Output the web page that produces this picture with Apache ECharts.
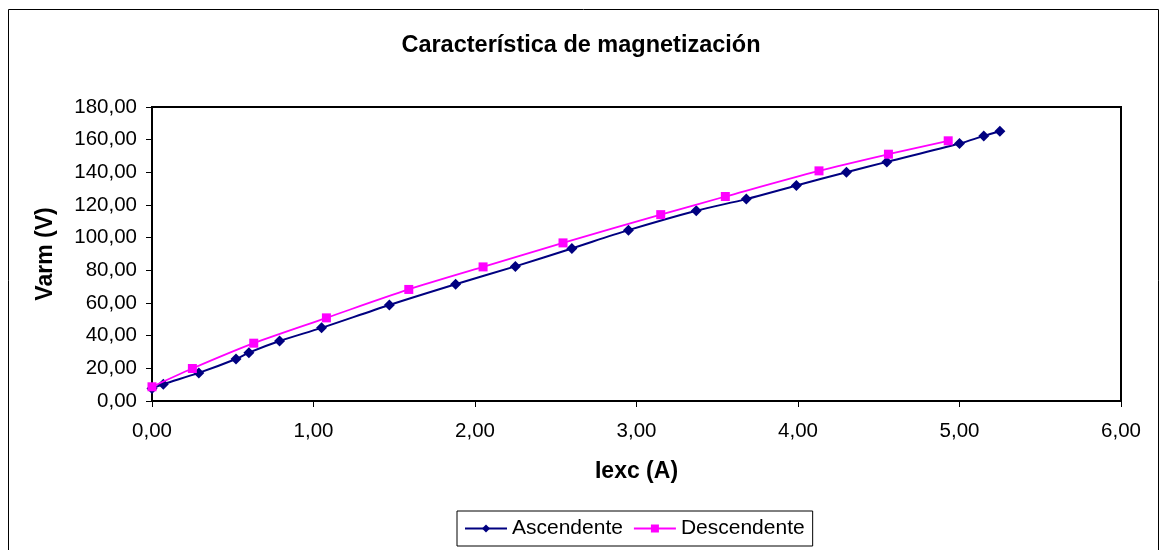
<!DOCTYPE html>
<html>
<head>
<meta charset="utf-8">
<script src="https://cdn.jsdelivr.net/npm/echarts@6/dist/echarts.min.js"></script>
<style>
  html, body { margin: 0; padding: 0; background: #fff; }
  #chart { width: 1162px; height: 550px; }
</style>
</head>
<body>
<div id="chart"></div>
<script>
// Magnetization curve: armature voltage vs. excitation current
const seriesNames = ['Ascendente', 'Descendente'];

// Rising excitation current
const ascX = [0.00, 0.07, 0.29, 0.52, 0.60, 0.79, 1.05, 1.47, 1.88, 2.25, 2.60, 2.95, 3.37, 3.68, 3.99, 4.30, 4.55, 5.00, 5.15, 5.25];
const ascY = [7.7, 10.3, 17.2, 25.7, 29.6, 36.7, 44.8, 58.8, 71.5, 82.4, 93.4, 104.6, 116.5, 123.6, 131.9, 140.1, 146.4, 157.6, 162.3, 165.2];

// Falling excitation current
const descX = [0.00, 0.25, 0.63, 1.08, 1.59, 2.05, 2.545, 3.15, 3.55, 4.13, 4.56, 4.93];
const descY = [8.7, 19.9, 35.4, 50.9, 68.3, 82.1, 96.8, 114.1, 125.2, 140.9, 151.1, 159.3];

// Axis tick values
const xTicks = [0, 1, 2, 3, 4, 5, 6];
const yTicks = [0, 20, 40, 60, 80, 100, 120, 140, 160, 180];

const FONT = '"Liberation Sans", Arial, sans-serif';
const fmt = v => v.toFixed(2).replace('.', ',');
const pairs = (xs, ys) => xs.map((x, i) => [x, ys[i]]);

const chart = echarts.init(document.getElementById('chart'), null, { renderer: 'canvas' });

chart.setOption({
  backgroundColor: '#ffffff',
  animation: false,
  textStyle: { fontFamily: FONT },
  title: {
    text: 'Característica de magnetización',
    left: 'center',
    top: 29,
    textStyle: { fontFamily: FONT, fontSize: 23.5, fontWeight: 'bold', color: '#000' }
  },
  graphic: [{
    type: 'rect',
    shape: { x: 8.5, y: 9.5, width: 1150, height: 560 },
    style: { fill: 'none', stroke: '#000', lineWidth: 1 },
    silent: true,
    z: -1
  }],
  grid: {
    left: 152, right: 41, top: 107, bottom: 149,
    show: true, borderColor: '#000', borderWidth: 2, backgroundColor: '#fff'
  },
  legend: {
    data: seriesNames,
    left: 457, top: 511,
    padding: [7, 8, 7, 7],
    itemGap: 10,
    itemWidth: 42, itemHeight: 10,
    backgroundColor: '#fff',
    borderColor: '#000', borderWidth: 1,
    borderRadius: 0,
    textStyle: { fontFamily: FONT, fontSize: 21, color: '#000' }
  },
  xAxis: {
    type: 'value',
    min: xTicks[0], max: xTicks[xTicks.length - 1], interval: xTicks[1] - xTicks[0],
    name: 'Iexc (A)', nameLocation: 'middle', nameGap: 59,
    nameTextStyle: { fontFamily: FONT, fontSize: 23, fontWeight: 'bold', color: '#000' },
    axisLine: { show: true, lineStyle: { color: '#000', width: 2 } },
    axisTick: { show: true, inside: false, length: 6, lineStyle: { color: '#000', width: 1 } },
    axisLabel: { margin: 20, fontFamily: FONT, fontSize: 20.5, color: '#000', formatter: fmt },
    splitLine: { show: false }
  },
  yAxis: {
    type: 'value',
    min: yTicks[0], max: yTicks[yTicks.length - 1], interval: yTicks[1] - yTicks[0],
    name: 'Varm (V)', nameLocation: 'middle', nameGap: 95, nameRotate: 90,
    nameTextStyle: { fontFamily: FONT, fontSize: 23, fontWeight: 'bold', color: '#000' },
    axisLine: { show: true, lineStyle: { color: '#000', width: 2 } },
    axisTick: { show: true, inside: false, length: 6, lineStyle: { color: '#000', width: 1 } },
    axisLabel: { margin: 15, fontFamily: FONT, fontSize: 20.5, color: '#000', formatter: fmt },
    splitLine: { show: false }
  },
  series: [
    {
      name: seriesNames[0],
      type: 'line',
      data: pairs(ascX, ascY),
      smooth: 0.3,
      symbol: 'diamond',
      symbolSize: 11,
      lineStyle: { color: '#000080', width: 2 },
      itemStyle: { color: '#000080' },
      z: 2
    },
    {
      name: seriesNames[1],
      type: 'line',
      data: pairs(descX, descY),
      smooth: 0.3,
      symbol: 'rect',
      symbolSize: 9,
      lineStyle: { color: '#ff00ff', width: 1.8 },
      itemStyle: { color: '#ff00ff' },
      z: 3
    }
  ]
});
</script>
</body>
</html>
